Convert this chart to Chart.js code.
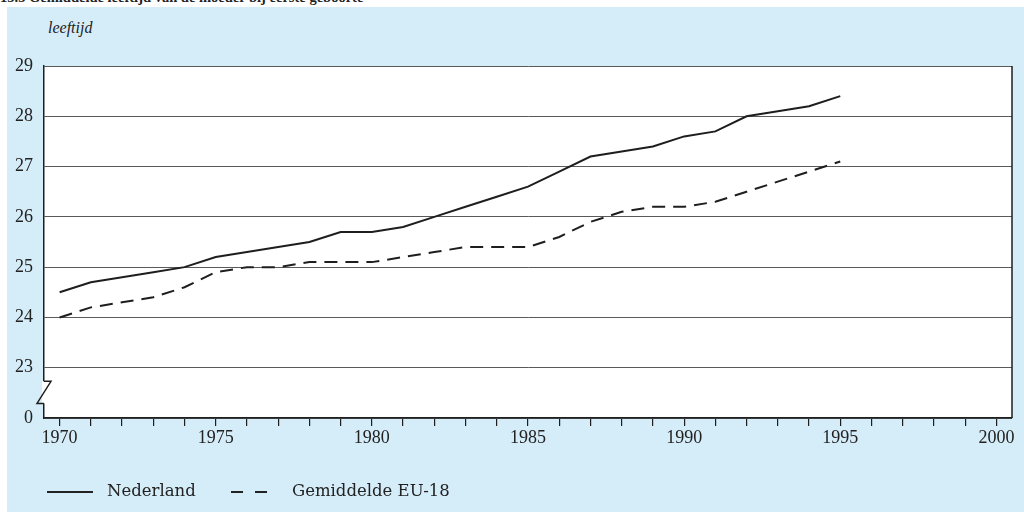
<!DOCTYPE html>
<html>
<head>
<meta charset="utf-8">
<script src="https://cdn.jsdelivr.net/npm/chart.js@4/dist/chart.umd.min.js"></script>
<style>
  html, body { margin: 0; padding: 0; background: #fff; }
  body { width: 1024px; height: 512px; position: relative; overflow: hidden; font-family: "DejaVu Serif", serif; color: #222; }
  #panel { position: absolute; left: 7px; top: 7px; right: 0; bottom: 0; background: #d5ecf9; }
  #title { position: absolute; left: 0; top: -11px; font-family: "Liberation Serif", serif; font-weight: bold; font-size: 14.5px; white-space: nowrap; }
  #unit { position: absolute; left: 48px; top: 19px; font-family: "Liberation Serif", serif; font-style: italic; font-size: 16px; }
  #wrap { position: absolute; left: 0; top: 0; width: 1024px; height: 512px; }
  .legend { position: absolute; top: 481px; font-size: 16.5px; white-space: nowrap; }
  .swatch { position: absolute; top: 491px; height: 0; border-top: 2px solid #222; }
</style>
</head>
<body>
<div id="panel"></div>
<div id="title">15.3 Gemiddelde leeftijd van de moeder bij eerste geboorte</div>
<div id="unit">leeftijd</div>
<div id="wrap"><canvas id="chart" width="1024" height="512"></canvas></div>
<div class="swatch" style="left:47px;width:46px"></div>
<div class="legend" style="left:107px">Nederland</div>
<div class="swatch" style="left:231px;width:12px"></div>
<div class="swatch" style="left:255px;width:12px"></div>
<div class="legend" style="left:292px">Gemiddelde EU-18</div>
<script>
// years and average age of mother at first birth
const years = [1970, 1971, 1972, 1973, 1974, 1975, 1976, 1977, 1978, 1979, 1980, 1981, 1982,
  1983, 1984, 1985, 1986, 1987, 1988, 1989, 1990, 1991, 1992, 1993, 1994, 1995];
const nederland = [24.5, 24.7, 24.8, 24.9, 25.0, 25.2, 25.3, 25.4, 25.5, 25.7, 25.7, 25.8, 26.0,
  26.2, 26.4, 26.6, 26.9, 27.2, 27.3, 27.4, 27.6, 27.7, 28.0, 28.1, 28.2, 28.4];
const eu18 = [24.0, 24.2, 24.3, 24.4, 24.6, 24.9, 25.0, 25.0, 25.1, 25.1, 25.1, 25.2, 25.3,
  25.4, 25.4, 25.4, 25.6, 25.9, 26.1, 26.2, 26.2, 26.3, 26.5, 26.7, 26.9, 27.1];

const xTicks = [1970, 1971, 1972, 1973, 1974, 1975, 1976, 1977, 1978, 1979, 1980, 1981, 1982,
  1983, 1984, 1985, 1986, 1987, 1988, 1989, 1990, 1991, 1992, 1993, 1994, 1995, 1996, 1997,
  1998, 1999, 2000];
const yTicks = [22, 23, 24, 25, 26, 27, 28, 29];
// axis is broken below 23, the bottom line is labelled 0
const yTickLabels = { 22: "0" };

const ink = "#1e1e1e";
const tickFont = { family: "'Liberation Serif', serif", size: 18 };

// white plot background, right frame line and the axis break mark
const frame = {
  id: "frame",
  beforeDraw(c) {
    const a = c.chartArea, ctx = c.ctx;
    ctx.save();
    ctx.fillStyle = "#fff";
    ctx.fillRect(a.left, a.top, a.right - a.left, a.bottom - a.top);
    ctx.restore();
  },
  afterDraw(c) {
    const a = c.chartArea, ctx = c.ctx, y = c.scales.y;
    const y23 = y.getPixelForValue(23), y0 = y.getPixelForValue(22);
    const top = y23 + (y0 - y23) * 0.27, bot = y23 + (y0 - y23) * 0.71;
    const x = a.left;
    ctx.save();
    ctx.strokeStyle = ink;
    ctx.lineWidth = 1.5;
    ctx.beginPath();
    ctx.moveTo(a.right, a.top);
    ctx.lineTo(a.right, a.bottom);
    ctx.stroke();
    // gap in the left axis
    ctx.fillStyle = "#fff";
    ctx.fillRect(x - 2, top, 4, bot - top);
    ctx.fillStyle = "#d5ecf9";
    ctx.fillRect(x - 10, top - 1, 8, bot - top + 2);
    ctx.beginPath();
    ctx.moveTo(x, top);
    ctx.lineTo(x + 7, top);
    ctx.lineTo(x - 7, bot);
    ctx.lineTo(x, bot);
    ctx.stroke();
    ctx.restore();
  }
};

new Chart(document.getElementById("chart"), {
  type: "line",
  data: {
    datasets: [
      {
        label: "Nederland",
        data: years.map((yr, i) => ({ x: yr, y: nederland[i] })),
        borderColor: ink,
        borderWidth: 2,
        pointRadius: 0,
        tension: 0,
      },
      {
        label: "Gemiddelde EU-18",
        data: years.map((yr, i) => ({ x: yr, y: eu18[i] })),
        borderColor: ink,
        borderWidth: 2,
        borderDash: [13, 8],
        pointRadius: 0,
        tension: 0,
      },
    ],
  },
  options: {
    responsive: false,
    animation: false,
    layout: { padding: { left: 0, right: 12, top: 66, bottom: 64 } },
    plugins: { legend: { display: false }, tooltip: { enabled: false } },
    scales: {
      x: {
        type: "linear",
        min: 1969.5,
        max: 2000.5,
        afterBuildTicks: (s) => { s.ticks = xTicks.map((v) => ({ value: v })); },
        afterFit: (s) => { s.height = 30; },
        ticks: {
          autoSkip: false,
          maxRotation: 0,
          padding: 1,
          color: "#222",
          font: tickFont,
          callback: (v) => (v % 5 === 0 ? String(v) : ""),
        },
        grid: { drawOnChartArea: false, drawTicks: true, tickLength: 8, color: ink, lineWidth: 1.2 },
        border: { display: true, color: ink, width: 1.5 },
      },
      y: {
        min: 22,
        max: 29,
        afterBuildTicks: (s) => { s.ticks = yTicks.map((v) => ({ value: v })); },
        afterFit: (s) => { s.width = 44; },
        ticks: {
          padding: 11,
          color: "#222",
          font: tickFont,
          callback: (v) => (yTickLabels[v] !== undefined ? yTickLabels[v] : String(v)),
        },
        grid: { drawTicks: false, color: "#5a5a5a", lineWidth: 1 },
        border: { display: true, color: ink, width: 1.5 },
      },
    },
  },
  plugins: [frame],
});
</script>
</body>
</html>
